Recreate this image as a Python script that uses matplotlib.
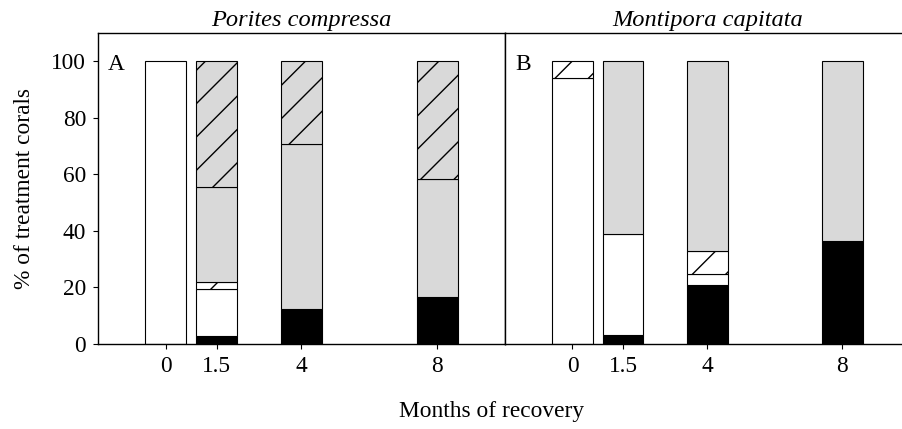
import matplotlib
matplotlib.use("Agg")
import matplotlib.pyplot as plt
import numpy as np

# ---- data ----
months = [0, 1.5, 4, 8]
tick_labels = ["0", "1.5", "4", "8"]
panel_titles = ["Porites compressa", "Montipora capitata"]
panel_letters = ["A", "B"]

# Panel A (Porites compressa), stacked bottom -> top
a_black = [0, 3.0, 12.5, 16.8]
a_white = [100, 16.4, 0, 0]
a_white_h = [0, 2.7, 0, 0]
a_gray = [0, 33.4, 58.3, 41.4]
a_gray_h = [0, 44.5, 29.2, 41.8]

# Panel B (Montipora capitata)
b_black = [0, 3.1, 21.0, 36.4]
b_white = [94.0, 35.9, 3.8, 0]
b_white_h = [6.0, 0, 8.0, 0]
b_gray = [0, 61.0, 67.2, 63.6]
b_gray_h = [0, 0, 0, 0]

panels = [
    [a_black, a_white, a_white_h, a_gray, a_gray_h],
    [b_black, b_white, b_white_h, b_gray, b_gray_h],
]
styles = [
    dict(facecolor="black", hatch=None),
    dict(facecolor="white", hatch=None),
    dict(facecolor="white", hatch="/"),
    dict(facecolor="#d9d9d9", hatch=None),
    dict(facecolor="#d9d9d9", hatch="/"),
]

DPI = 100
W, H = 902, 429
plt.rcParams["font.family"] = ["Liberation Serif", "DejaVu Serif"]
plt.rcParams["hatch.linewidth"] = 1.0
plt.rcParams["hatch.color"] = "black"

fig = plt.figure(figsize=(W / DPI, H / DPI), dpi=DPI)

ax_bottom = (H - 344) / H
ax_height = (344 - 33) / H
axA = fig.add_axes([98 / W, ax_bottom, 407 / W, ax_height])
axB = fig.add_axes([505 / W, ax_bottom, 405 / W, ax_height])

fs = 16.8
for i, (ax, series) in enumerate(zip([axA, axB], panels)):
    bottom = np.zeros(len(months))
    for vals, st in zip(series, styles):
        vals = np.array(vals, dtype=float)
        for x, b, v in zip(months, bottom, vals):
            if v > 0:
                ax.bar(x, v, bottom=b, width=1.2, facecolor=st["facecolor"],
                       edgecolor="black", linewidth=0.8, hatch=st["hatch"])
        bottom += vals
    ax.set_xlim(-2, 10)
    ax.set_ylim(0, 110)
    ax.set_xticks(months)
    ax.set_xticklabels(tick_labels, fontsize=fs)
    for s in ax.spines.values():
        s.set_linewidth(1.0)
    ax.tick_params(axis="both", direction="out", length=3.6, width=0.8,
                   pad=5, labelsize=fs)
    ax.set_title(panel_titles[i], fontsize=fs + 0.8, style="italic", pad=5)
    ax.text(0.025, 0.898, panel_letters[i], transform=ax.transAxes,
            fontsize=fs, va="center", ha="left")

axA.set_yticks([0, 20, 40, 60, 80, 100])
axA.set_ylabel("% of treatment corals", fontsize=fs, labelpad=12)
axB.set_yticks([])

fig.text(492 / W, 1 - 417 / H, "Months of recovery", ha="center",
         va="baseline", fontsize=fs)

fig.savefig("out.png", dpi=DPI)
